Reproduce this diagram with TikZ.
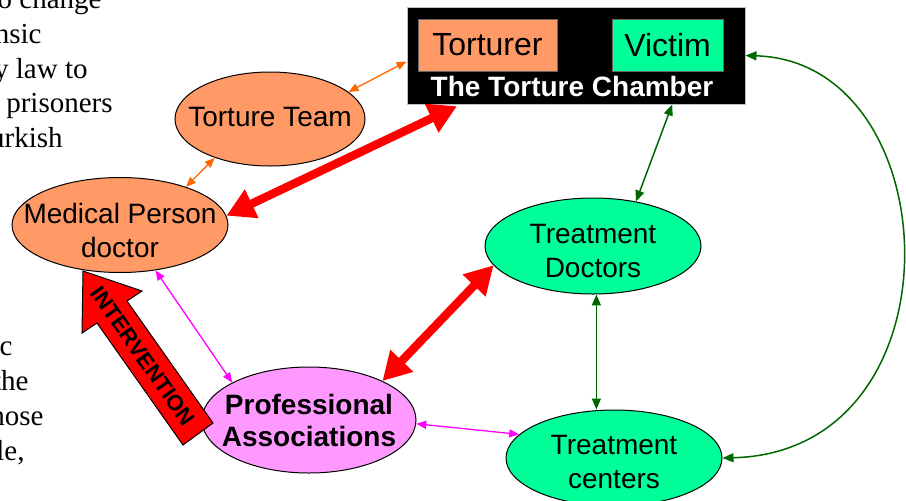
\documentclass[tikz,border=0pt]{standalone}
\usepackage{fontspec}
\setmainfont{Liberation Sans}
\newfontfamily\bookfont{Liberation Serif}
\usetikzlibrary{positioning,shapes.geometric,arrows.meta}

\definecolor{torturer orange}{HTML}{FF9966}
\definecolor{victim green}{HTML}{00FF99}
\definecolor{association pink}{HTML}{FF99FF}
\definecolor{team line}{HTML}{FF6600}
\definecolor{peer line}{HTML}{FF00FF}
\definecolor{care line}{HTML}{006600}

\tikzset{
  bubble/.style={ellipse, draw, line width=0.5pt, inner sep=0pt},
  bubble text/.style={align=center, inner sep=0pt, font=\fontsize{14}{17}\selectfont},
  thin link/.style={<->, >={Triangle[length=5pt,width=4pt]}, line width=0.65pt},
  care link/.style={<->, >={Triangle[length=5.5pt,width=4.5pt]}, line width=0.75pt, draw=care line},
  force link/.style={<->, >={Triangle[length=14pt,width=15pt]}, line width=4.2pt, draw=red},
  side text/.style={font=\bookfont\fontsize{14.5}{17}\selectfont, anchor=base east, inner sep=0pt}
}

\begin{document}
\begin{tikzpicture}[x=0.5pt, y=-0.5pt]
  \useasboundingbox (0,0) rectangle (906,500);
  % text of the page behind the picture
  \foreach \xend/\ybase/\words [count=\n] in {102/8.5/o change, 42/43/nsic, 88/78/y law to,
      113/112/prisoners, 63/147/urkish, 13/355/c, 29/390/the, 44/425/hose, 25/460/{le,}}
    \node [side text] (side line \n) at (\xend,\ybase) {\words};

  % The Torture Chamber
  \node [draw=black!25, fill=black, line width=0.5pt, minimum width=169pt, minimum height=48.5pt]
    (torture chamber) at (576,55.5) {};
  \node [below right = 6pt and 5.5pt of torture chamber.north west, draw=black!60, line width=0.4pt,
    fill=torturer orange, minimum width=69.5pt, minimum height=26pt, inner sep=0pt,
    font=\fontsize{16}{19}\selectfont] (torturer) {Torturer};
  \node [below left = 6pt and 11pt of torture chamber.north east, draw=black!60, line width=0.4pt,
    fill=victim green, minimum width=55.5pt, minimum height=26pt, inner sep=0pt,
    font=\fontsize{16}{19}\selectfont] (victim) {Victim};
  \node [above = 3.5pt of torture chamber.south, xshift=-2pt, inner sep=0pt, text=white,
    font=\bfseries\fontsize{14}{17}\selectfont] (chamber title) {The Torture Chamber};

  % Torture Team
  \node [bubble, fill=torturer orange, minimum width=95pt, minimum height=47pt,
    label={[bubble text, yshift=1pt]center:Torture Team}] (torture team) at (270,119) {};
  % Medical Person
  \node [bubble, fill=torturer orange, minimum width=108pt, minimum height=47.5pt,
    label={[bubble text, yshift=-2.5pt]center:Medical Person\\doctor}] (medical person) at (120,225) {};
  % Treatment Doctors
  \node [bubble, fill=victim green, minimum width=108pt, minimum height=48pt,
    label={[bubble text, yshift=-2.5pt]center:Treatment\\Doctors}] (treatment doctors) at (593,246) {};
  % Treatment centers
  \node [bubble, fill=victim green, minimum width=108pt, minimum height=48pt,
    label={[bubble text, yshift=-2.2pt]center:Treatment\\centers}] (treatment centers) at (614,458) {};
  % Professional Associations
  \node [bubble, fill=association pink, minimum width=107pt, minimum height=53pt,
    label={[bubble text, font=\bfseries\fontsize{14}{16}\selectfont]center:Professional\\Associations}]
    (professional associations) at (309,420) {};

  % Intervention
  \draw [fill=red, line width=0.5pt] (213,423) -- (127,301) -- (142,291) -- (83,271)
    -- (82,333) -- (97,323) -- (183,445) -- cycle;
  \node [rotate=-54.8, inner sep=0pt, font=\bfseries\fontsize{11}{13}\selectfont]
    (intervention) at (143,356) {INTERVENTION};

  % links
  \draw [thin link, draw=team line] (torture team.19) -- (torture chamber.182);
  \draw [thin link, draw=team line] (torture team.215) -- (medical person.30);
  \draw [force link, shorten >=2pt] (medical person.5) -- (torture chamber.203);
  \draw [force link] (professional associations.28) -- (treatment doctors.191);
  \draw [thin link, draw=peer line] (medical person.-52) -- (professional associations.154);
  \draw [thin link, draw=peer line] (professional associations.-2) -- (treatment centers.166);
  \draw [care link] (torture chamber.-27) -- (treatment doctors.46);
  \draw [care link] (treatment doctors.-86) -- (treatment doctors.-86 |- treatment centers.north);
  \draw [care link] (torture chamber.east) .. controls +(205,6) and +(243,-6) .. (treatment centers.east);
\end{tikzpicture}
\end{document}
